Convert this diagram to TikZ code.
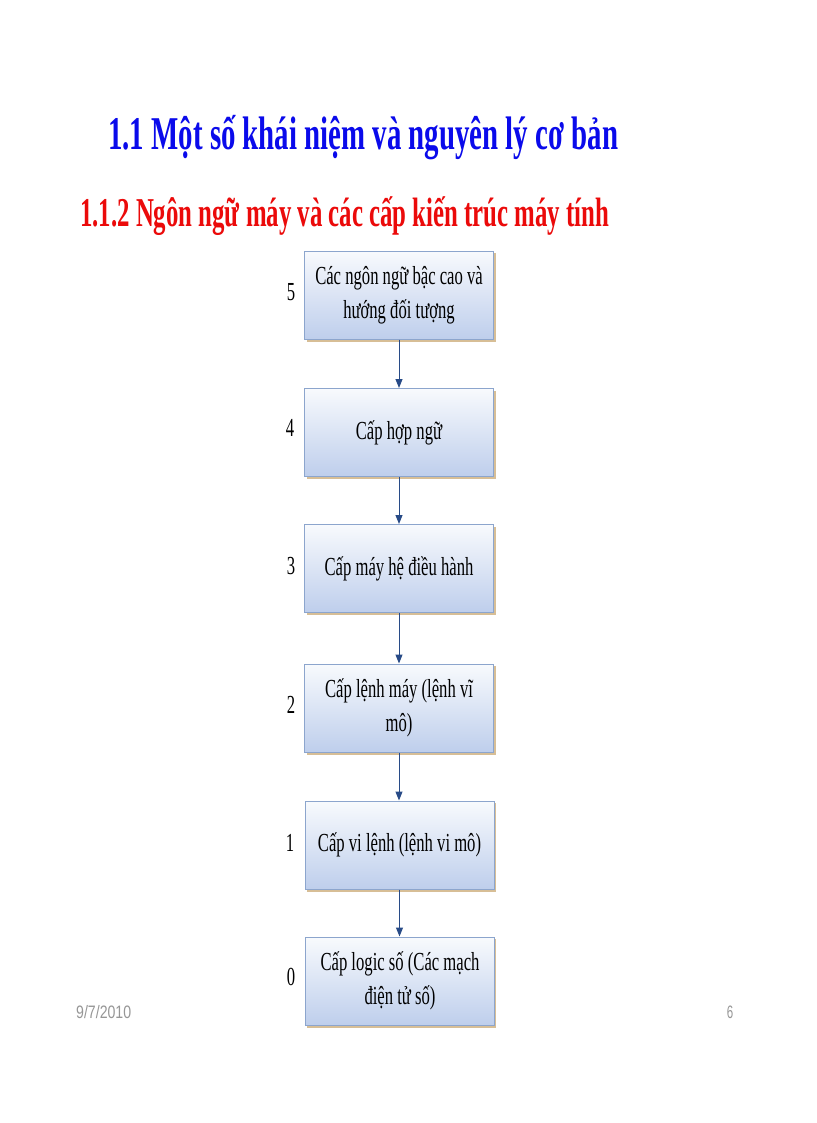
\documentclass[tikz,border=0pt]{standalone}
\usepackage{fontspec}
\setmainfont{Liberation Serif}
\newfontfamily\footfont{Liberation Sans}
\usetikzlibrary{arrows.meta,shadings}
\definecolor{titleblue}{RGB}{10,10,235}
\definecolor{titlered}{RGB}{235,10,10}
\definecolor{boxborder}{RGB}{140,165,205}
\definecolor{boxtop}{RGB}{248,250,253}
\definecolor{boxbot}{RGB}{190,206,236}
\definecolor{boxshadow}{RGB}{215,190,150}
\definecolor{arrowblue}{RGB}{40,75,135}
\definecolor{footgray}{RGB}{150,150,150}
\newcommand{\sx}[1]{\scalebox{0.64}[1]{#1}}
\tikzset{
  levelbox/.style={draw=boxborder, line width=1pt, top color=boxtop, bottom color=boxbot,
    minimum width=189pt, minimum height=88pt, inner sep=0pt, align=center,
    font=\fontsize{26}{34}\selectfont},
  levelnum/.style={font=\fontsize{26}{26}\selectfont, inner sep=0pt},
  flowarrow/.style={draw=arrowblue, line width=1pt, -{Triangle[length=9pt,width=7pt]}},
  boxshade/.style={fill=boxshadow, draw=none},
}
\begin{document}
\begin{tikzpicture}[x=1pt,y=-1pt]
\useasboundingbox (0,0) rectangle (816,1123);
\fill[white] (0,0) rectangle (816,1123);
% titles
\node[anchor=base west, inner sep=0pt, text=titleblue] (t1) at (108,150)
  {\resizebox{510pt}{\height}{\fontsize{47}{47}\selectfont\bfseries 1.1 Một số khái niệm và nguyên lý cơ bản}};
\node[anchor=base west, inner sep=0pt, text=titlered] (t2) at (80,227)
  {\resizebox{529pt}{\height}{\fontsize{41}{41}\selectfont\bfseries 1.1.2 Ngôn ngữ máy và các cấp kiến trúc máy tính}};
% shadows
\foreach \yy in {295,432.5,568.5,708,845,981}{
  \fill[boxshade] (304.5+2,\yy-44+2) rectangle (493.5+2,\yy+44+2.5);
}
% boxes
\node[levelbox] (b5) at (399,295) {\sx{Các ngôn ngữ bậc cao và}\\\sx{hướng đối tượng}};
\node[levelbox] (b4) at (399,432.5) {\sx{Cấp hợp ngữ}};
\node[levelbox] (b3) at (399,568.5) {\sx{Cấp máy hệ điều hành}};
\node[levelbox] (b2) at (399,708) {\sx{Cấp lệnh máy (lệnh vĩ}\\\sx{mô)}};
\node[levelbox] (b1) at (399.5,845) {\sx{Cấp vi lệnh (lệnh vi mô)}};
\node[levelbox] (b0) at (400,981) {\sx{Cấp logic số (Các mạch}\\\sx{điện tử số)}};
% numbers
\node[levelnum, anchor=base] (n5) at (291,300) {\sx{5}};
\node[levelnum, anchor=base] (n4) at (290,436) {\sx{4}};
\node[levelnum, anchor=base] (n3) at (291,574) {\sx{3}};
\node[levelnum, anchor=base] (n2) at (291,713) {\sx{2}};
\node[levelnum, anchor=base] (n1) at (290,851) {\sx{1}};
\node[levelnum, anchor=base] (n0) at (291,985) {\sx{0}};
% arrows
\draw[flowarrow] (b5.south) -- (b5.south |- b4.north);
\draw[flowarrow] (b4.south) -- (b4.south |- b3.north);
\draw[flowarrow] (b3.south) -- (b3.south |- b2.north);
\draw[flowarrow] (b2.south) -- (b2.south |- b1.north);
\draw[flowarrow] (b1.south) -- (b1.south |- b0.north);
% footer
\node[anchor=base west, inner sep=0pt, text=footgray] (date) at (76,1018)
  {\resizebox{55pt}{\height}{\fontsize{18}{18}\selectfont\footfont 9/7/2010}};
\node[anchor=base, inner sep=0pt, text=footgray] (page) at (730,1018)
  {\sx{\fontsize{18}{18}\selectfont\footfont 6}};
\end{tikzpicture}
\end{document}
